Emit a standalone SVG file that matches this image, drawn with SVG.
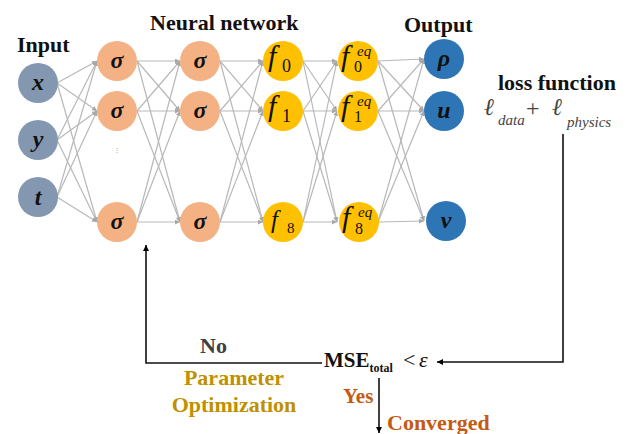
<svg xmlns="http://www.w3.org/2000/svg" width="630" height="434" viewBox="0 0 630 434">
<defs>
<marker id="ga" viewBox="0 0 10 10" refX="10" refY="5" markerWidth="5" markerHeight="5" orient="auto" markerUnits="userSpaceOnUse"><path d="M0,0 L10,5 L0,10 z" fill="#a8a8a8"/></marker>
<marker id="ka" viewBox="0 0 10 10" refX="10" refY="5" markerWidth="6" markerHeight="6" orient="auto" markerUnits="userSpaceOnUse"><path d="M0,0 L10,5 L0,10 z" fill="#000"/></marker>
</defs>
<style>
.c line{stroke:#b8b8b8;stroke-width:1.2;marker-end:url(#ga)}
.k{stroke:#111;stroke-width:1.6;fill:none;marker-end:url(#ka)}
.in{fill:#8497b0}.sg{fill:#f4b183}.fy{fill:#ffc000}.ou{fill:#2e75b6}
.nl{font-family:"Liberation Serif",serif;font-weight:bold;font-style:italic;font-size:24px;text-anchor:middle;fill:#111}
.fl{font-family:"Liberation Serif",serif;font-style:italic;fill:#111}
.sb{font-family:"Liberation Serif",serif;fill:#111}
.t{font-family:"Liberation Serif",serif;font-weight:bold;font-size:22px;fill:#111}
</style>
<rect width="630" height="434" fill="#fff"/>
<g class="c" id="connectors">
<line x1="57" y1="83" x2="97" y2="61"/><line x1="57" y1="83" x2="97" y2="111"/><line x1="57" y1="83" x2="97" y2="222"/>
<line x1="57" y1="140" x2="97" y2="61"/><line x1="57" y1="140" x2="97" y2="111"/><line x1="57" y1="140" x2="97" y2="222"/>
<line x1="57" y1="197" x2="97" y2="61"/><line x1="57" y1="197" x2="97" y2="111"/><line x1="57" y1="197" x2="97" y2="222"/>
<line x1="137" y1="61" x2="180" y2="61"/><line x1="137" y1="61" x2="180" y2="111"/><line x1="137" y1="61" x2="180" y2="222"/>
<line x1="137" y1="111" x2="180" y2="61"/><line x1="137" y1="111" x2="180" y2="111"/><line x1="137" y1="111" x2="180" y2="222"/>
<line x1="137" y1="222" x2="180" y2="61"/><line x1="137" y1="222" x2="180" y2="111"/><line x1="137" y1="222" x2="180" y2="222"/>
<line x1="220" y1="61" x2="263" y2="61"/><line x1="220" y1="61" x2="263" y2="111"/><line x1="220" y1="61" x2="263" y2="222"/>
<line x1="220" y1="111" x2="263" y2="61"/><line x1="220" y1="111" x2="263" y2="111"/><line x1="220" y1="111" x2="263" y2="222"/>
<line x1="220" y1="222" x2="263" y2="61"/><line x1="220" y1="222" x2="263" y2="111"/><line x1="220" y1="222" x2="263" y2="222"/>
<line x1="303" y1="61" x2="337" y2="61"/><line x1="303" y1="61" x2="337" y2="111"/><line x1="303" y1="61" x2="337" y2="222"/>
<line x1="303" y1="111" x2="337" y2="61"/><line x1="303" y1="111" x2="337" y2="111"/><line x1="303" y1="111" x2="337" y2="222"/>
<line x1="303" y1="222" x2="337" y2="61"/><line x1="303" y1="222" x2="337" y2="111"/><line x1="303" y1="222" x2="337" y2="222"/>
<line x1="378" y1="61" x2="424" y2="59"/><line x1="378" y1="61" x2="424" y2="111"/><line x1="378" y1="61" x2="424" y2="221"/>
<line x1="378" y1="111" x2="424" y2="59"/><line x1="378" y1="111" x2="424" y2="111"/><line x1="378" y1="111" x2="424" y2="221"/>
<line x1="378" y1="222" x2="424" y2="59"/><line x1="378" y1="222" x2="424" y2="111"/><line x1="378" y1="222" x2="424" y2="221"/>
</g>
<g id="loop">
<polyline class="k" points="563,134 563,362 437,362"/>
<polyline class="k" points="322,363 146,363 146,245"/>
<line class="k" x1="379" y1="378" x2="379" y2="433"/>
</g>
<text class="t" x="17" y="52">Input</text>
<text class="t" x="150" y="30">Neural network</text>
<text class="t" x="404" y="32">Output</text>
<text class="t" x="498" y="90">loss function</text>
<g id="n_x"><circle class="in" cx="38" cy="83" r="20"/><text class="nl" x="38" y="90">x</text></g>
<g id="n_y"><circle class="in" cx="38" cy="140" r="20"/><text class="nl" x="38" y="147">y</text></g>
<g id="n_t"><circle class="in" cx="38" cy="197" r="20"/><text class="nl" x="38" y="205">t</text></g>
<g id="n_s11"><circle class="sg" cx="117" cy="61" r="20"/><text class="nl" x="117" y="68">σ</text></g>
<g id="n_s12"><circle class="sg" cx="117" cy="111" r="20"/><text class="nl" x="117" y="118">σ</text></g>
<text x="117" y="152" font-family="Liberation Serif,serif" font-size="6" fill="#888" text-anchor="middle">⋮</text>
<g id="n_s13"><circle class="sg" cx="117" cy="222" r="20"/><text class="nl" x="117" y="229">σ</text></g>
<g id="n_s21"><circle class="sg" cx="200" cy="61" r="20"/><text class="nl" x="200" y="68">σ</text></g>
<g id="n_s22"><circle class="sg" cx="200" cy="111" r="20"/><text class="nl" x="200" y="118">σ</text></g>
<g id="n_s23"><circle class="sg" cx="200" cy="222" r="20"/><text class="nl" x="200" y="229">σ</text></g>
<g id="n_f0"><circle class="fy" cx="283" cy="61" r="20"/><text class="fl" x="268" y="66" font-size="30">f</text><text class="sb" x="282" y="72" font-size="18">0</text></g>
<g id="n_f1"><circle class="fy" cx="283" cy="111" r="20"/><text class="fl" x="268" y="116" font-size="30">f</text><text class="sb" x="282" y="122" font-size="18">1</text></g>
<g id="n_f8"><circle class="fy" cx="283" cy="222" r="20"/><text class="fl" x="271" y="228" font-size="25">f</text><text class="sb" x="287" y="233" font-size="15">8</text></g>
<g id="n_e0"><circle class="fy" cx="358" cy="61" r="20"/><text class="fl" x="341" y="66" font-size="30">f</text><text class="fl" x="357" y="56" font-size="15">eq</text><text class="sb" x="354" y="72" font-size="16">0</text></g>
<g id="n_e1"><circle class="fy" cx="358" cy="111" r="20"/><text class="fl" x="341" y="116" font-size="30">f</text><text class="fl" x="357" y="106" font-size="15">eq</text><text class="sb" x="354" y="122" font-size="16">1</text></g>
<g id="n_e8"><circle class="fy" cx="359" cy="222" r="20"/><text class="fl" x="342" y="227" font-size="30">f</text><text class="fl" x="358" y="217" font-size="15">eq</text><text class="sb" x="355" y="234" font-size="16">8</text></g>
<g id="n_rho"><circle class="ou" cx="444" cy="59" r="20"/><text class="nl" x="444" y="66">ρ</text></g>
<g id="n_u"><circle class="ou" cx="444" cy="111" r="20"/><text class="nl" x="444" y="118">u</text></g>
<g id="n_v"><circle class="ou" cx="446" cy="221" r="20"/><text class="nl" x="446" y="228">v</text></g>
<g font-family="Liberation Serif,serif" fill="#444">
<text x="484" y="115" font-size="24" font-style="italic">ℓ</text>
<text x="498" y="125" font-size="15" font-style="italic">data</text>
<text x="526" y="116" font-size="24">+</text>
<text x="552" y="115" font-size="24" font-style="italic">ℓ</text>
<text x="567" y="127" font-size="15" font-style="italic">physics</text>
</g>
<text x="324" y="367" font-family="Liberation Serif,serif" font-weight="bold" font-size="21" fill="#111">MSE<tspan font-size="12" dy="5">total</tspan></text>
<text x="403" y="367" font-family="Liberation Serif,serif" font-size="22" fill="#111">&lt;</text>
<text x="419" y="367" font-family="Liberation Serif,serif" font-style="italic" font-size="22" fill="#111">ε</text>
<text class="t" x="200" y="353" font-size="21" style="fill:#404040">No</text>
<text class="t" x="234" y="385" text-anchor="middle" style="fill:#bf9000">Parameter</text>
<text class="t" x="234" y="412" text-anchor="middle" style="fill:#bf9000">Optimization</text>
<text class="t" x="343" y="403" style="fill:#c55a11;font-size:21px">Yes</text>
<text class="t" x="387" y="430" style="fill:#c55a11">Converged</text>
</svg>
